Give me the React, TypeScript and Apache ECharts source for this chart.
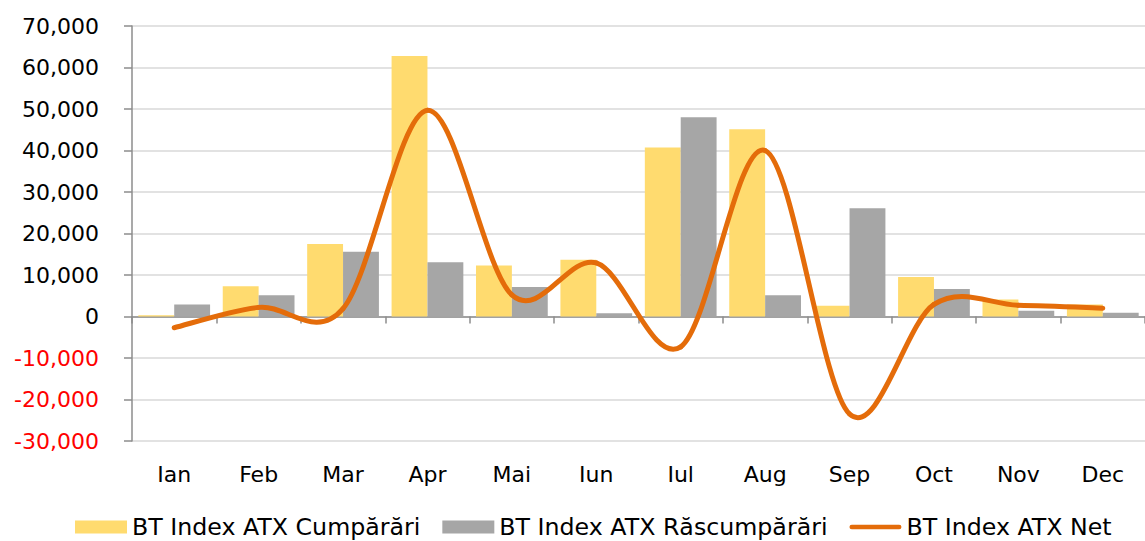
import React, { useEffect, useRef } from 'react';
import * as echarts from 'echarts';

const categories = ['Ian', 'Feb', 'Mar', 'Apr', 'Mai', 'Iun', 'Iul', 'Aug', 'Sep', 'Oct', 'Nov', 'Dec'];
const seriesNames = ['BT Index ATX Cumpărări', 'BT Index ATX Răscumpărări', 'BT Index ATX Net'];
const cumparari = [300, 7300, 17500, 62800, 12300, 13700, 40700, 45100, 2600, 9500, 4100, 2900];
const rascumparari = [2900, 5100, 15600, 13100, 7100, 800, 48000, 5100, 26100, 6600, 1400, 900];
const net = [-2700, 2200, 1900, 49700, 5200, 12900, -7300, 40000, -23500, 2900, 2700, 2000];
const yTicks = [-30000, -20000, -10000, 0, 10000, 20000, 30000, 40000, 50000, 60000, 70000];

const ORANGE = '#E46C0A';

export default function App() {
  const ref = useRef<HTMLDivElement>(null);
  useEffect(() => {
    document.body.style.margin = '0';
    const chart = echarts.init(ref.current as HTMLDivElement, null, { renderer: 'svg' });
    const font = 'DejaVu Sans';
    const axisGray = '#8C8C8C';
    const n = net.length;

    // Catmull-Rom style smoothing (like a spreadsheet's smoothed line), one bezier per segment
    const renderSegment = (params: any, api: any) => {
      const i = params.dataIndex;
      if (i >= n - 1) return { type: 'group', children: [] };
      const pt = (k: number) => {
        const kk = Math.max(0, Math.min(n - 1, k));
        return api.coord([kk, net[kk]]);
      };
      const p0 = pt(i - 1);
      const p1 = pt(i);
      const p2 = pt(i + 1);
      const p3 = pt(i + 2);
      return {
        type: 'bezierCurve',
        shape: {
          x1: p1[0],
          y1: p1[1],
          cpx1: p1[0] + (p2[0] - p0[0]) / 6,
          cpy1: p1[1] + (p2[1] - p0[1]) / 6,
          cpx2: p2[0] - (p3[0] - p1[0]) / 6,
          cpy2: p2[1] - (p3[1] - p1[1]) / 6,
          x2: p2[0],
          y2: p2[1],
        },
        style: { stroke: ORANGE, lineWidth: 5, fill: 'none', lineCap: 'round' },
        z2: 10,
      };
    };

    chart.setOption({
      animation: false,
      grid: { left: 132, top: 26, width: 1024, height: 415, containLabel: false },
      legend: {
        left: 75,
        top: 515,
        padding: 0,
        itemWidth: 52,
        itemHeight: 13,
        itemGap: 22,
        textStyle: { fontFamily: font, fontSize: 23.7, color: '#000' },
        data: [
          { name: seriesNames[0], icon: 'rect' },
          { name: seriesNames[1], icon: 'rect' },
          {
            name: seriesNames[2],
            icon: 'path://M2.5,0 L54.5,0 A2.5,2.5 0 0 1 54.5,5 L2.5,5 A2.5,2.5 0 0 1 2.5,0 Z',
            itemStyle: { color: ORANGE },
          },
        ],
      },
      xAxis: [
        {
          type: 'category',
          data: categories,
          boundaryGap: true,
          axisLine: { onZero: true, lineStyle: { color: axisGray, width: 1.5 } },
          axisTick: { show: true, length: 7, lineStyle: { color: axisGray, width: 1.5 } },
          axisLabel: { show: false },
          splitLine: { show: false },
        },
        {
          type: 'category',
          data: categories,
          position: 'bottom',
          boundaryGap: true,
          axisLine: { show: false, onZero: false },
          axisTick: { show: false },
          axisLabel: { margin: 22, fontFamily: font, fontSize: 22, color: '#000' },
          splitLine: { show: false },
        },
      ],
      yAxis: {
        type: 'value',
        min: yTicks[0],
        max: yTicks[yTicks.length - 1],
        interval: yTicks[1] - yTicks[0],
        axisLine: { show: true, lineStyle: { color: axisGray, width: 1.5 } },
        axisTick: { show: true, length: 8, lineStyle: { color: axisGray, width: 1.5 } },
        splitLine: { show: true, lineStyle: { color: '#D9D9D9', width: 1.5 } },
        axisLabel: {
          margin: 33,
          formatter: (v: number) => {
            const s = Math.abs(v).toLocaleString('en-US');
            return v < 0 ? `{neg|-${s}}` : `{pos|${s}}`;
          },
          rich: {
            neg: { color: '#FF0000', fontFamily: font, fontSize: 22 },
            pos: { color: '#000000', fontFamily: font, fontSize: 22 },
          },
        },
      },
      series: [
        {
          name: seriesNames[0],
          type: 'bar',
          xAxisIndex: 0,
          data: cumparari,
          barGap: '0%',
          barCategoryGap: '15%',
          itemStyle: { color: '#FFDB6F' },
        },
        {
          name: seriesNames[1],
          type: 'bar',
          xAxisIndex: 0,
          data: rascumparari,
          barGap: '0%',
          barCategoryGap: '15%',
          itemStyle: { color: '#A6A6A6' },
        },
        {
          name: seriesNames[2],
          type: 'custom',
          xAxisIndex: 0,
          data: net.map((v, i) => [i, v]),
          encode: { x: 0, y: 1 },
          renderItem: renderSegment,
          clip: false,
          z: 5,
          itemStyle: { color: ORANGE },
        },
      ],
    });
    return () => chart.dispose();
  }, []);
  return (
    <div
      ref={ref}
      style={{ position: 'absolute', left: 0, top: 0, width: 1145, height: 541 }}
    />
  );
}
